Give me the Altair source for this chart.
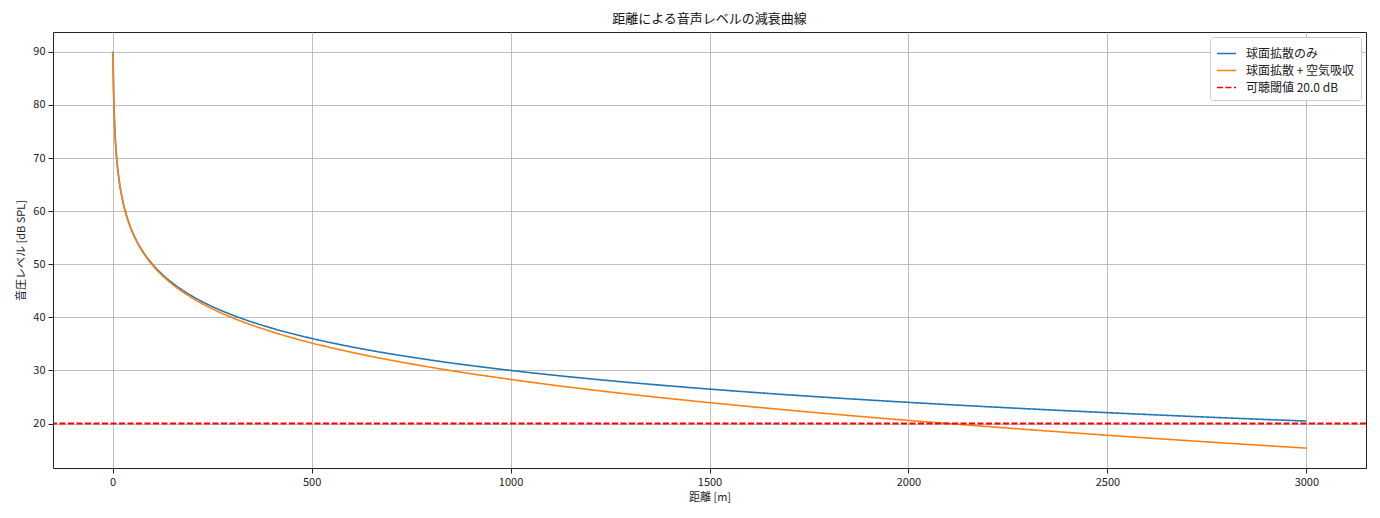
import altair as alt
import pandas as pd

FONT = "Noto Sans CJK JP"

distance_m = [1, 2, 3, 4, 5, 7, 10, 15, 20, 25, 30, 40, 50, 60, 80, 100, 125, 150,
              200, 250, 300, 400, 500, 600, 800, 1000, 1250, 1500, 1750, 2000,
              2250, 2500, 2750, 3000]
spherical_db = [90.0, 83.98, 80.46, 77.96, 76.02, 73.10, 70.0, 66.48, 63.98, 62.04,
                60.46, 57.96, 56.02, 54.44, 51.94, 50.0, 48.06, 46.48, 43.98, 42.04,
                40.46, 37.96, 36.02, 34.44, 31.94, 30.0, 28.06, 26.48, 25.14, 23.98,
                22.96, 22.04, 21.21, 20.46]
absorb_db = [90.0, 83.98, 80.45, 77.95, 76.01, 73.09, 69.98, 66.45, 63.95, 62.0,
             60.41, 57.89, 55.94, 54.34, 51.80, 49.83, 47.85, 46.23, 43.64, 41.62,
             39.95, 37.28, 35.17, 33.42, 30.58, 28.3, 25.93, 23.93, 22.17, 20.58,
             19.14, 17.79, 16.54, 15.36]
threshold_db = 20.0

series_names = ["球面拡散のみ", "球面拡散 + 空気吸収", "可聴閾値 20.0 dB"]
series_colors = ["#1f77b4", "#ff7f0e", "#ff0000"]
series_dash = [[1, 0], [1, 0], [6, 2.5]]

lines_df = pd.concat([
    pd.DataFrame({"distance": distance_m, "level": spherical_db, "series": series_names[0]}),
    pd.DataFrame({"distance": distance_m, "level": absorb_db, "series": series_names[1]}),
])
thr_df = pd.DataFrame({"level": [threshold_db], "series": [series_names[2]]})

color_scale = alt.Scale(domain=series_names, range=series_colors)
dash_scale = alt.Scale(domain=series_names, range=series_dash)
legend = alt.Legend(
    title=None, orient="top-right", symbolType="stroke", symbolStrokeWidth=1.7,
    symbolSize=360, labelFont=FONT, labelFontSize=12, labelColor="#222",
    fillColor="white", strokeColor="#cccccc", cornerRadius=3, padding=6,
    rowPadding=0, offset=5, labelLimit=300, labelOffset=9,
)

x_enc = alt.X("distance:Q", title="距離 [m]",
              scale=alt.Scale(domain=[-149.95, 3149.95], nice=False, zero=False),
              axis=alt.Axis(values=[0, 500, 1000, 1500, 2000, 2500, 3000], format="d"))
y_enc = alt.Y("level:Q", title="音圧レベル [dB SPL]",
              scale=alt.Scale(domain=[11.62, 93.73], nice=False, zero=False),
              axis=alt.Axis(values=[20, 30, 40, 50, 60, 70, 80, 90], format="d"))

lines = alt.Chart(lines_df).mark_line(strokeWidth=1.6, interpolate="monotone", clip=True).encode(
    x=x_enc, y=y_enc,
    color=alt.Color("series:N", scale=color_scale, legend=legend),
    strokeDash=alt.StrokeDash("series:N", scale=dash_scale, legend=legend),
    order=alt.Order("distance:Q"),
)

thr = alt.Chart(thr_df).mark_rule(strokeWidth=1.8).encode(
    y=alt.Y("level:Q"),
    color=alt.Color("series:N", scale=color_scale, legend=legend),
    strokeDash=alt.StrokeDash("series:N", scale=dash_scale, legend=legend),
)

chart = alt.layer(lines, thr).properties(
    width=1313, height=436,
    title=alt.Title("距離による音声レベルの減衰曲線", font=FONT, fontSize=13,
                    fontWeight="normal", color="#111", offset=6),
    autosize=alt.AutoSizeParams(type="none"),
    padding={"left": 45, "top": 24, "right": 6, "bottom": 42},
).configure_view(
    stroke="#222", strokeWidth=1
).configure_axis(
    labelFont=FONT, titleFont=FONT, labelFontSize=11, titleFontSize=11,
    titleFontWeight="normal", labelColor="#222", titleColor="#222",
    gridColor="#b0b0b0", gridWidth=0.8, grid=True,
    domain=False, tickColor="#222", tickSize=5, tickWidth=1, labelPadding=3,
).configure_axisY(titlePadding=6).configure_axisX(titlePadding=4)

chart.save("out.html", embed_options={"renderer": "svg", "actions": False})
